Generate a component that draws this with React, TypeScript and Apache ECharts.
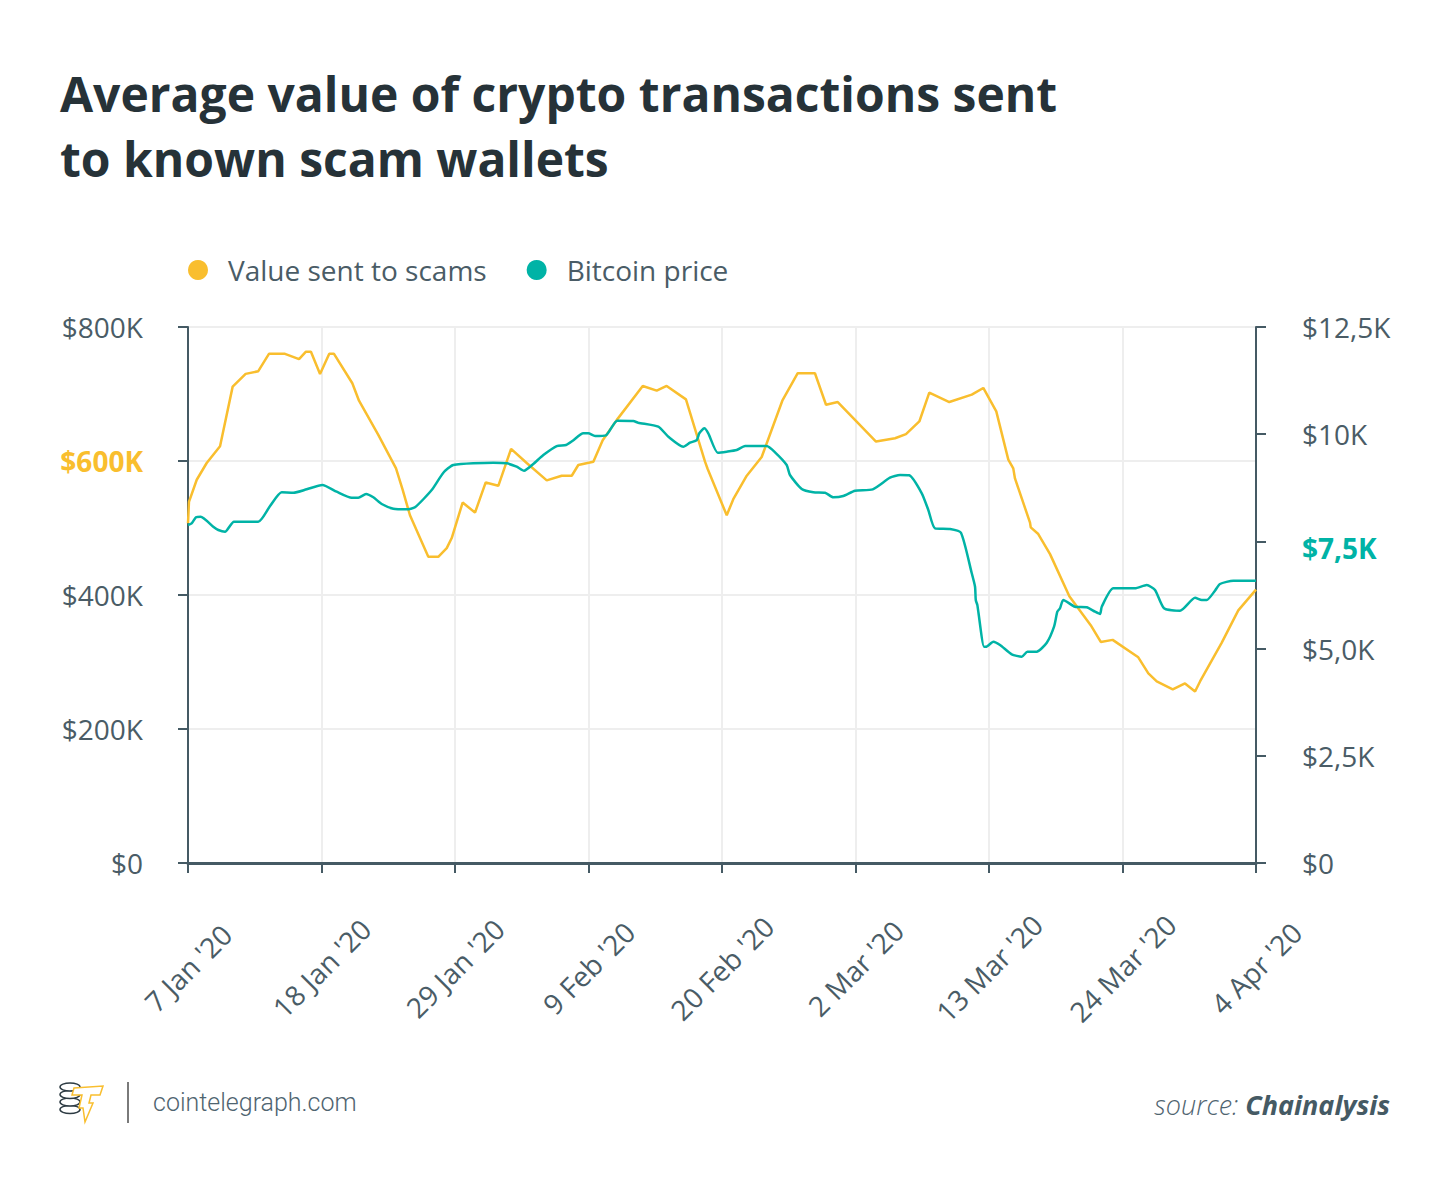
import React, { useEffect, useRef } from 'react';
import * as echarts from 'echarts';

const xTickLabels = ["7 Jan '20", "18 Jan '20", "29 Jan '20", "9 Feb '20", "20 Feb '20", "2 Mar '20", "13 Mar '20", "24 Mar '20", "4 Apr '20"];
const leftTickLabels = ['$0', '$200K', '$400K', '$600K', '$800K'];
const rightTickLabels = ['$0', '$2,5K', '$5,0K', '$7,5K', '$10K', '$12,5K'];

// days since 7 Jan 2020
const scamDays = [0, 0.08, 0.72, 1.54, 2.64, 3.68, 4.75, 5.79, 6.67, 7.99,
  9.15, 9.70, 10.13, 10.88, 11.64, 12.03, 13.54, 14.09, 15.68, 17.14,
  17.69, 18.02, 18.29, 19.80, 20.62, 21.32, 21.73, 22.63, 23.65, 24.53,
  25.57, 26.62, 27.91, 29.56, 30.79, 31.62, 32.16, 33.40, 34.17, 35.32,
  37.47, 38.62, 39.44, 41.03, 42.60, 42.82, 44.39, 44.93, 46.04, 47.27,
  48.97, 50.24, 51.66, 52.57, 53.54, 56.69, 58.26, 59.16, 60.26, 61.08,
  62.73, 64.58, 65.53, 66.60, 67.59, 68.00, 68.14, 69.38, 69.44, 70.06,
  71.03, 72.62, 74.38, 75.21, 76.19, 78.30, 79.13, 79.82, 81.14, 82.15,
  82.98, 83.39, 85.18, 86.54, 88];
// $K
const scamValues = [507, 539, 572, 597, 622, 711, 730, 734, 760, 760,
  752, 763, 763, 730, 760, 760, 716, 690, 639, 589,
  557, 536, 519, 457, 457, 470, 485, 538, 523, 568,
  563, 618, 597, 571, 578, 578, 594, 599, 631, 661,
  712, 705, 712, 692, 599, 588, 519, 543, 578, 606,
  690, 731, 731, 684, 688, 629, 634, 640, 659, 702,
  688, 699, 709, 674, 602, 589, 574, 508, 501, 491,
  461, 398, 355, 330, 333, 307, 283, 271, 259, 268,
  256, 271, 329, 377, 408];

const btcDays = [0, 0.30, 0.66, 1.05, 2.08, 2.50, 3.05, 3.79, 5.79, 6.76,
  7.72, 8.68, 9.78, 11.07, 12.25, 13.49, 14.03, 14.67, 15.27, 15.96,
  16.92, 18.02, 18.70, 20.08, 21.04, 21.86, 25.16, 26.26, 27.08, 27.69,
  28.45, 29.28, 30.38, 31.15, 31.70, 32.57, 32.98, 33.54, 34.44, 35.37,
  36.69, 37.10, 38.75, 39.58, 40.81, 41.36, 41.92, 42.13, 42.54, 42.87,
  43.65, 44.39, 45.21, 45.90, 47.68, 48.37, 49.33, 49.60, 50.57, 51.52,
  52.49, 53.17, 53.99, 54.96, 56.42, 57.84, 58.67, 59.43, 60.46, 61.00,
  61.55, 62.79, 63.69, 64.58, 64.85, 64.91, 65.04, 65.10, 65.59, 65.76,
  66.36, 66.91, 67.87, 68.70, 69.16, 69.93, 70.76, 71.36, 71.63, 71.85,
  72.12, 73.09, 74.05, 74.74, 75.15, 75.29, 76.24, 78.03, 79.00, 79.68,
  80.42, 81.74, 82.98, 83.53, 83.94, 84.62, 85.03, 86.13, 88];
// $
const btcValues = [7882, 7922, 8062, 8076, 7843, 7766, 7726, 7959, 7959, 8325,
  8645, 8635, 8715, 8815, 8659, 8519, 8519, 8605, 8528, 8372,
  8262, 8248, 8295, 8698, 9102, 9281, 9335, 9321, 9242, 9148,
  9305, 9515, 9724, 9748, 9848, 10021, 10021, 9958, 9974, 10314,
  10307, 10268, 10175, 9941, 9708, 9801, 9864, 10021, 10137, 10021,
  9568, 9592, 9631, 9724, 9724, 9577, 9281, 9048, 8722, 8645,
  8635, 8528, 8558, 8682, 8715, 8985, 9048, 9041, 8621, 8232,
  7805, 7789, 7703, 6756, 6443, 6133, 6017, 5900, 5044, 5044,
  5161, 5084, 4867, 4811, 4928, 4928, 5137, 5511, 5860, 5940,
  6133, 5977, 5963, 5860, 5807, 5977, 6406, 6406, 6483, 6366,
  5940, 5884, 6187, 6133, 6133, 6350, 6506, 6583, 6583];

const YELLOW = '#f9be2e';
const TEAL = '#00b3a6';
const AXIS = '#455a64';
const LABEL = '#4a5c66';
const FONT = '"Open Sans", "Noto Sans", sans-serif';
const COIN = '#2d3b43';

export default function App() {
  const ref = useRef<HTMLDivElement>(null);
  useEffect(() => {
    if (!ref.current) return;
    const chart = echarts.init(ref.current, undefined, { renderer: 'svg' });
    const scamData = scamDays.map((d, i) => [d, scamValues[i]]);
    const btcData = btcDays.map((d, i) => [d, btcValues[i]]);

    const coin = (cy: number) => ({
      type: 'ellipse',
      shape: { cx: 70, cy, rx: 10, ry: 4 },
      style: { fill: '#fff', stroke: COIN, lineWidth: 1.5 },
    });

    const option: any = {
      animation: false,
      backgroundColor: '#ffffff',
      title: {
        text: 'Average value of crypto transactions sent\nto known scam wallets',
        left: 60,
        top: 61,
        padding: 0,
        textStyle: {
          fontFamily: FONT,
          fontSize: 48,
          fontWeight: 'bold',
          color: '#263238',
          lineHeight: 65,
        },
      },
      legend: {
        left: 188,
        top: 256,
        padding: 0,
        icon: 'circle',
        itemWidth: 20,
        itemHeight: 20,
        itemGap: 40,
        textStyle: {
          fontFamily: FONT,
          fontSize: 28,
          color: LABEL,
          padding: [0, 0, 0, 15],
        },
        data: ['Value sent to scams', 'Bitcoin price'],
      },
      grid: {
        left: 188,
        right: 194,
        top: 327,
        bottom: 320,
        show: true,
        borderColor: AXIS,
        borderWidth: 2,
        containLabel: false,
      },
      xAxis: {
        type: 'value',
        min: 0,
        max: 88,
        interval: 11,
        axisLine: { show: true, onZero: false, lineStyle: { color: AXIS, width: 3 } },
        axisTick: { show: true, length: 10, lineStyle: { color: AXIS, width: 2 } },
        splitLine: { show: true, lineStyle: { color: '#eeeeee', width: 2 } },
        axisLabel: {
          rotate: 45,
          margin: 105,
          align: 'center',
          verticalAlign: 'middle',
          fontFamily: FONT,
          fontSize: 28,
          color: LABEL,
          formatter: (v: number) => xTickLabels[Math.round(v / 11)] ?? '',
        },
      },
      yAxis: [
        {
          type: 'value',
          position: 'left',
          min: 0,
          max: 800,
          interval: 200,
          axisLine: { show: true, lineStyle: { color: AXIS, width: 2 } },
          axisTick: { show: true, length: 10, lineStyle: { color: AXIS, width: 2 } },
          splitLine: { show: true, lineStyle: { color: '#eeeeee', width: 2 } },
          axisLabel: {
            margin: 45,
            fontFamily: FONT,
            fontSize: 28,
            color: LABEL,
            formatter: (v: number) => {
              const t = leftTickLabels[Math.round(v / 200)] ?? '';
              return v === 600 ? `{hl|${t}}` : t;
            },
            rich: {
              hl: { color: YELLOW, fontWeight: 'bold', fontSize: 28, fontFamily: FONT },
            },
          },
        },
        {
          type: 'value',
          position: 'right',
          min: 0,
          max: 12500,
          interval: 2500,
          axisLine: { show: true, lineStyle: { color: AXIS, width: 2 } },
          axisTick: { show: true, length: 10, lineStyle: { color: AXIS, width: 2 } },
          splitLine: { show: false },
          axisLabel: {
            margin: 46,
            fontFamily: FONT,
            fontSize: 28,
            color: LABEL,
            formatter: (v: number) => {
              const t = rightTickLabels[Math.round(v / 2500)] ?? '';
              return v === 7500 ? `{hl|${t}}` : t;
            },
            rich: {
              hl: { color: TEAL, fontWeight: 'bold', fontSize: 28, fontFamily: FONT, padding: [14, 0, 0, 0] },
            },
          },
        },
      ],
      series: [
        {
          name: 'Value sent to scams',
          type: 'line',
          yAxisIndex: 0,
          data: scamData,
          symbol: 'none',
          color: YELLOW,
          lineStyle: { color: YELLOW, width: 2.5 },
        },
        {
          name: 'Bitcoin price',
          type: 'line',
          yAxisIndex: 1,
          data: btcData,
          symbol: 'none',
          smooth: 0.2,
          color: TEAL,
          lineStyle: { color: TEAL, width: 2.5 },
        },
      ],
      graphic: [
        // coin stack logo
        coin(1109.5),
        coin(1102),
        coin(1094.5),
        coin(1087),
        {
          type: 'polygon',
          shape: {
            points: [[74, 1088], [103, 1086], [100, 1095], [91, 1095], [89, 1103], [93, 1103], [85, 1122], [83, 1108], [79, 1108], [82, 1095], [72, 1095]],
          },
          style: { fill: '#fff', stroke: YELLOW, lineWidth: 1.5 },
        },
        { type: 'line', shape: { x1: 128, y1: 1082, x2: 128, y2: 1123 }, style: { stroke: '#7a7a7a', lineWidth: 2 } },
        {
          type: 'text',
          x: 153,
          y: 1102,
          style: {
            text: 'cointelegraph.com',
            fill: '#4f6470',
            font: '300 25px Roboto, sans-serif',
            verticalAlign: 'middle',
            align: 'left',
          },
        },
        {
          type: 'text',
          x: 1390,
          y: 1104,
          style: {
            text: '{a|source: }{b|Chainalysis}',
            align: 'right',
            verticalAlign: 'middle',
            rich: {
              a: { fontFamily: FONT, fontSize: 27, fontStyle: 'italic', fontWeight: 300, fill: '#4f6470', color: '#4f6470' },
              b: { fontFamily: FONT, fontSize: 27, fontStyle: 'italic', fontWeight: 'bold', fill: '#455a64', color: '#455a64' },
            },
          },
        },
      ],
    };
    chart.setOption(option);
    return () => chart.dispose();
  }, []);

  return (
    <div
      ref={ref}
      style={{ position: 'fixed', left: 0, top: 0, width: 1450, height: 1183, background: '#fff' }}
    />
  );
}
